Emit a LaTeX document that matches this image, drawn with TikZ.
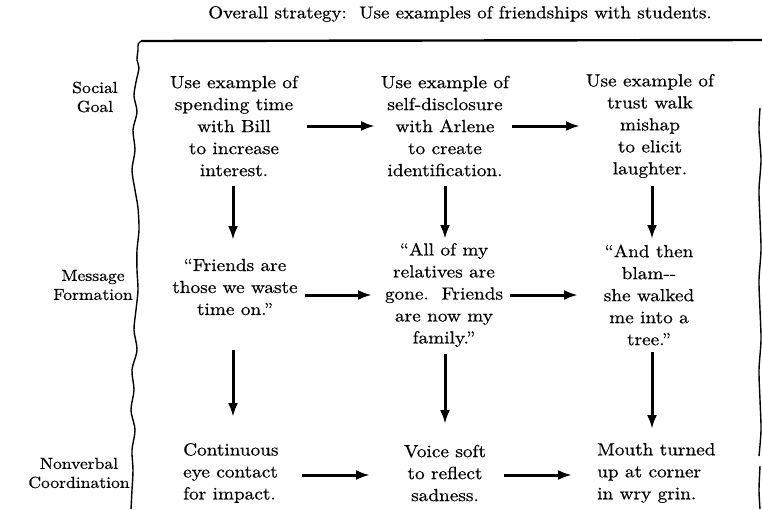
\documentclass[tikz,border=0pt]{standalone}
\usepackage{fontspec}
\setmainfont{lmroman10-regular.otf}[FakeStretch=1.1,FakeBold=0.6]
\usetikzlibrary{arrows.meta,calc}
\begin{document}
\begin{tikzpicture}[x=1pt,y=-1pt,
  txt/.style={inner sep=0pt,align=center,font=\fontsize{17.5}{22}\selectfont},
  txtl/.style={inner sep=0pt,align=left,anchor=west,font=\fontsize{17.5}{22}\selectfont},
  lbl/.style={inner sep=0pt,align=center,font=\fontsize{16}{19}\selectfont},
  arr/.style={line width=3pt,-{Latex[length=14pt,width=10pt]}},
  border/.style={line width=1.4pt,line join=round}]
\useasboundingbox (0,0) rectangle (762,509);
% title
\node[inner sep=0pt,font=\fontsize{17.2}{22}\selectfont] (title) at (460,14) {Overall strategy:\ \ Use examples of friendships with students.};
% frame
\coordinate (tl) at (141,41);
\coordinate (tr) at (762,40);
\draw[line width=2.4pt] (tl) -- (tr);
\draw[border] (tl) .. controls (138,43) .. (138,50)
  plot[smooth] coordinates {(138,50) (137,60) (139,68) (136,82) (134,96) (137,112) (133,130) (135,150) (132,170) (135,190) (138,208) (139,230) (137,250) (137,270) (138,290) (136,310) (134,330) (137,350) (132,370) (134,390) (131,410) (135,430) (132,450) (133,470) (132,490) (131,509)};
\draw[border] plot[smooth] coordinates {(760,108) (759,130) (761,160) (759,190) (760,220) (761,250) (759,280) (760,310) (761,340) (759,370) (760,400) (761,430) (759,456)};
\draw[border] plot[smooth] coordinates {(760,466) (759,490) (760,509)};
% row labels
\node[lbl] (rl1) at (95,97) {Social\\Goal};
\node[lbl] (rl2) at (93,285) {Message\\Formation};
\node[lbl] (rl3) at (79,473) {Nonverbal\\Coordination};
% row 1
\node[txt] (sg1) at (234,126) {Use example of\\spending time\\with Bill\\to increase\\interest.};
\node[txt] (sg2) at (445,126) {Use example of\\self-disclosure\\with Arlene\\to create\\identification.};
\node[txt] (sg3) at (650,126) {Use example of\\trust walk\\mishap\\to elicit\\laughter.};
% row 2
\node[txt] (mf1) at (235,287) {``Friends are\\those we waste\\time on.''};
\node[txt] (mf2) at (444,295) {``All of my\\relatives are\\gone.\ \ Friends\\are now my\\family.''};
\node[txt] (mf3) at (649,295) {``And then\\blam-{}-\\she walked\\me into a\\tree.''};
% row 3
\node[txtl] (nv1) at (183,473) {Continuous\\eye contact\\for impact.};
\node[txt] (nv2) at (445,473) {Voice soft\\to reflect\\sadness.};
\node[txtl] (nv3) at (597,473) {Mouth turned\\up at corner\\in wry grin.};
% horizontal arrows
\draw[arr] ([xshift=73pt]sg1.center) -- ([xshift=-70pt]sg2.center);
\draw[arr] ([xshift=67pt]sg2.center) -- ([xshift=-70pt]sg3.center);
\draw[arr] ([xshift=70pt,yshift=-8pt]mf1.center) -- ([xshift=-72pt]mf2.center);
\draw[arr] ([xshift=66pt]mf2.center) -- ([xshift=-71pt]mf3.center);
\draw[arr] ([xshift=119pt,yshift=-2pt]nv1.west) -- ([xshift=-75pt,yshift=-2pt]nv2.center);
\draw[arr] ([xshift=59pt,yshift=-2pt]nv2.center) -- ([xshift=-25pt,yshift=-2pt]nv3.west);
% vertical arrows
\draw[arr] ([xshift=-1pt,yshift=-60pt]sg1.center) -- ([xshift=-2pt,yshift=47pt]mf1.center);
\draw[arr] ([xshift=-2pt,yshift=-63pt]mf1.center) -- ([xshift=50pt,yshift=56pt]nv1.west);
\draw[arr] ([yshift=-60pt]sg2.center) -- ([xshift=1pt,yshift=56pt]mf2.center);
\draw[arr] ([xshift=1pt,yshift=-59pt]mf2.center) -- ([yshift=49pt]nv2.center);
\draw[arr] ([xshift=2pt,yshift=-60pt]sg3.center) -- ([xshift=3pt,yshift=56pt]mf3.center);
\draw[arr] ([xshift=3pt,yshift=-57pt]mf3.center) -- ([xshift=55pt,yshift=44pt]nv3.west);
\end{tikzpicture}
\end{document}
